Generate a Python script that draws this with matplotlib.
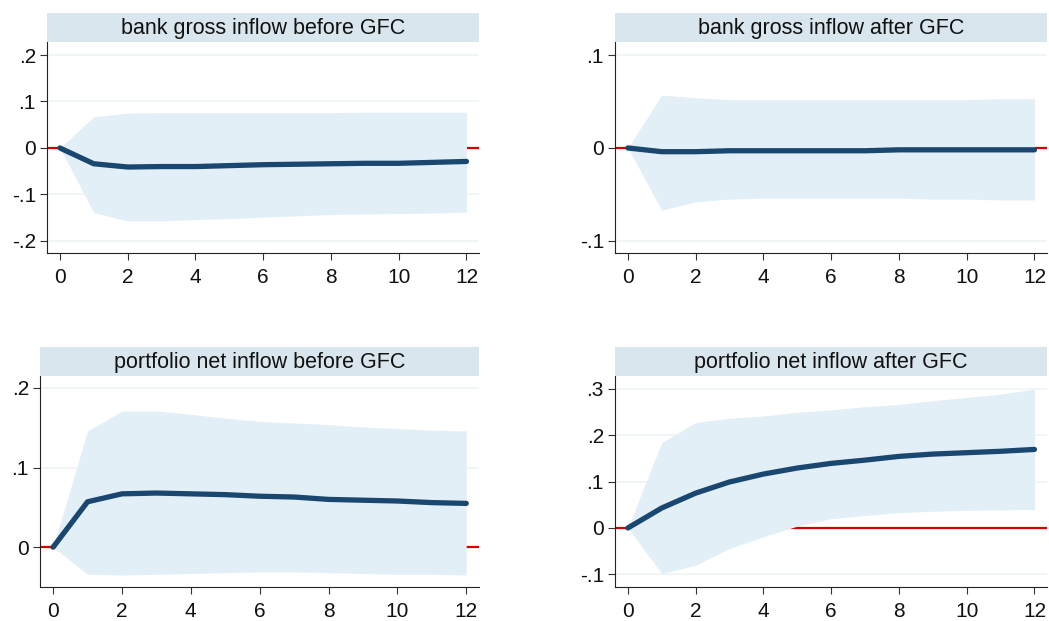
import matplotlib
matplotlib.use("Agg")
import matplotlib.pyplot as plt
import numpy as np

plt.rcParams['font.family'] = ['Liberation Sans', 'DejaVu Sans']

steps = list(range(13))

titles = ["bank gross inflow before GFC", "bank gross inflow after GFC",
          "portfolio net inflow before GFC", "portfolio net inflow after GFC"]

irf_bank_before = [0, -0.034, -0.041, -0.040, -0.040, -0.038, -0.036, -0.035, -0.034, -0.033, -0.033, -0.031, -0.029]
up_bank_before = [0, 0.067, 0.075, 0.076, 0.076, 0.076, 0.076, 0.076, 0.076, 0.077, 0.077, 0.077, 0.077]
lo_bank_before = [0, -0.139, -0.157, -0.157, -0.154, -0.152, -0.149, -0.146, -0.143, -0.142, -0.141, -0.140, -0.138]

irf_bank_after = [0, -0.004, -0.004, -0.003, -0.003, -0.003, -0.003, -0.003, -0.002, -0.002, -0.002, -0.002, -0.002]
up_bank_after = [0, 0.057, 0.054, 0.052, 0.052, 0.052, 0.052, 0.052, 0.052, 0.052, 0.052, 0.053, 0.053]
lo_bank_after = [0, -0.067, -0.058, -0.055, -0.054, -0.054, -0.054, -0.054, -0.054, -0.055, -0.055, -0.056, -0.056]

irf_port_before = [0, 0.057, 0.067, 0.068, 0.067, 0.066, 0.064, 0.063, 0.060, 0.059, 0.058, 0.056, 0.055]
up_port_before = [0, 0.146, 0.171, 0.171, 0.167, 0.162, 0.158, 0.156, 0.154, 0.151, 0.149, 0.147, 0.146]
lo_port_before = [0, -0.034, -0.035, -0.034, -0.033, -0.032, -0.031, -0.031, -0.032, -0.033, -0.034, -0.034, -0.035]

irf_port_after = [0, 0.043, 0.075, 0.099, 0.116, 0.129, 0.139, 0.146, 0.154, 0.159, 0.162, 0.165, 0.169]
up_port_after = [0, 0.184, 0.227, 0.236, 0.241, 0.249, 0.254, 0.261, 0.266, 0.274, 0.281, 0.288, 0.299]
lo_port_after = [0, -0.098, -0.080, -0.044, -0.019, 0.004, 0.020, 0.027, 0.033, 0.036, 0.038, 0.039, 0.040]

irfs = [irf_bank_before, irf_bank_after, irf_port_before, irf_port_after]
ups = [up_bank_before, up_bank_after, up_port_before, up_port_after]
los = [lo_bank_before, lo_bank_after, lo_port_before, lo_port_after]

yticks = [[-0.2, -0.1, 0, 0.1, 0.2], [-0.1, 0, 0.1], [0, 0.1, 0.2], [-0.1, 0, 0.1, 0.2, 0.3]]
ylabels = [["-.2", "-.1", "0", ".1", ".2"], ["-.1", "0", ".1"], ["0", ".1", ".2"], ["-.1", "0", ".1", ".2", ".3"]]
ylims = [(-0.226, 0.228), (-0.113, 0.114), (-0.050, 0.215), (-0.127, 0.327)]
xticks = [0, 2, 4, 6, 8, 10, 12]

W, H = 1049, 621
positions = [(47, 42, 479, 253), (615, 42, 1047, 253), (40, 376, 479, 587), (615, 376, 1047, 587)]

BAND = '#e3eff7'
STRIP = '#d9e6ee'
LINE = '#1a476f'
RED = '#d40000'

fig = plt.figure(figsize=(W / 100, H / 100), dpi=100)
for i in range(4):
    x0, y0, x1, y1 = positions[i]
    ax = fig.add_axes([x0 / W, (H - y1) / H, (x1 - x0) / W, (y1 - y0) / H])
    # title strip
    sax = fig.add_axes([x0 / W, (H - y0) / H, (x1 - x0) / W, 29 / H])
    sax.set_facecolor(STRIP)
    for s in sax.spines.values():
        s.set_visible(False)
    sax.set_xticks([]); sax.set_yticks([])
    sax.text(0.5, 0.47, titles[i], ha='center', va='center', fontsize=15.5, color='#111111',
             transform=sax.transAxes)

    ax.set_xlim(-0.38, 12.37)
    ax.set_ylim(*ylims[i])
    for yt in yticks[i]:
        ax.axhline(yt, color='#eef3f6', lw=1.2, zorder=0)
    ax.axhline(0, color=RED, lw=1.6, zorder=1)
    ax.fill_between(steps, los[i], ups[i], color=BAND, lw=0, zorder=2)
    ax.plot(steps, irfs[i], color=LINE, lw=3.8, solid_capstyle='round', zorder=3)

    ax.set_yticks(yticks[i])
    ax.set_yticklabels(ylabels[i])
    ax.set_xticks(xticks)
    ax.tick_params(labelsize=15, length=5, width=0.8, color='#333333', pad=3, labelcolor='#111111')
    ax.tick_params(axis='x', pad=6)
    ax.spines['top'].set_visible(False)
    ax.spines['right'].set_visible(False)
    ax.spines['left'].set_color('#222222')
    ax.spines['bottom'].set_color('#222222')

fig.savefig("out.png", dpi=100)
